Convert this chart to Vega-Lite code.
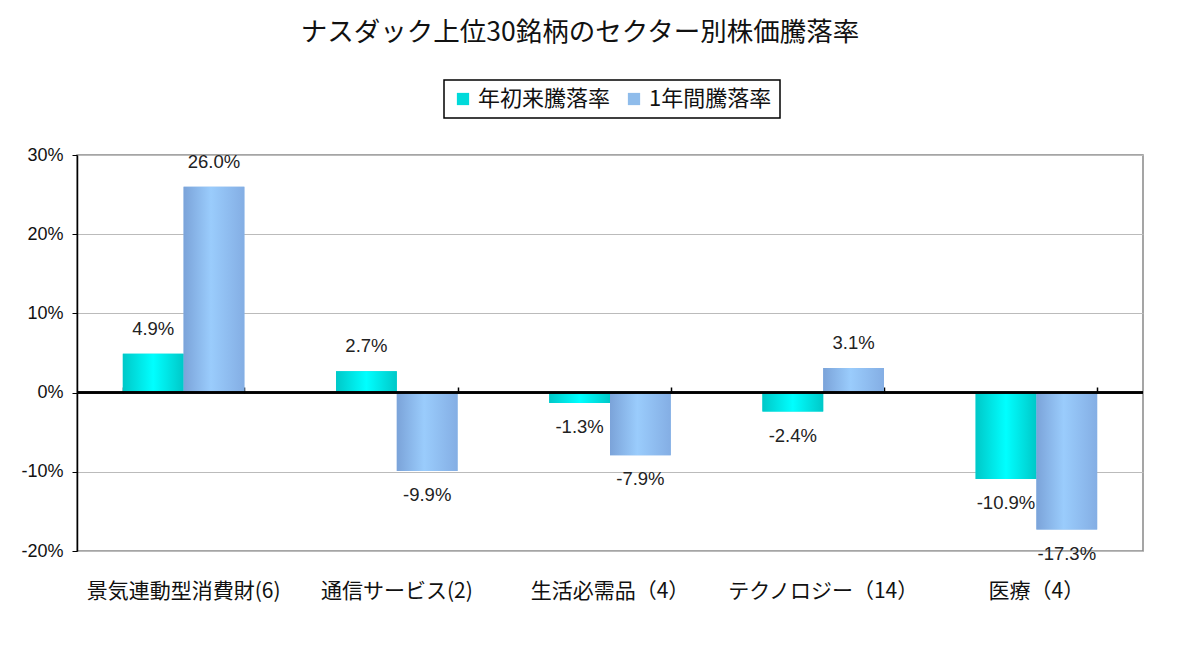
{
  "$schema": "https://vega.github.io/schema/vega-lite/v6.json",
  "width": 1066,
  "height": 396,
  "autosize": "none",
  "padding": {"left": 77, "top": 155, "right": 57, "bottom": 104},
  "background": "white",
  "title": {
    "text": "ナスダック上位30銘柄のセクター別株価騰落率",
    "font": "Noto Sans CJK JP",
    "fontSize": 26.5,
    "fontWeight": "normal",
    "color": "#111111",
    "anchor": "middle",
    "frame": "group",
    "baseline": "bottom",
    "offset": 6,
    "dx": -30
  },
  "config": {
    "view": {"stroke": "#888888", "strokeWidth": 1.5},
    "legend": {
      "orient": "none",
      "legendX": 367,
      "legendY": -75,
      "direction": "horizontal",
      "strokeColor": "black",
      "strokeWidth": 1.5,
      "fillColor": "white",
      "padding": 8,
      "labelFont": "Noto Sans CJK JP",
      "labelFontSize": 22,
      "labelColor": "#111111",
      "symbolType": "square",
      "symbolSize": 150,
      "symbolStrokeWidth": 0,
      "columnPadding": 12
    }
  },
  "data": {
    "values": [
      {"sector": "景気連動型消費財(6)", "series": "年初来騰落率", "value": 4.9},
      {"sector": "景気連動型消費財(6)", "series": "1年間騰落率", "value": 26.0},
      {"sector": "通信サービス(2)", "series": "年初来騰落率", "value": 2.7},
      {"sector": "通信サービス(2)", "series": "1年間騰落率", "value": -9.9},
      {"sector": "生活必需品（4）", "series": "年初来騰落率", "value": -1.3},
      {"sector": "生活必需品（4）", "series": "1年間騰落率", "value": -7.9},
      {"sector": "テクノロジー（14）", "series": "年初来騰落率", "value": -2.4},
      {"sector": "テクノロジー（14）", "series": "1年間騰落率", "value": 3.1},
      {"sector": "医療（4）", "series": "年初来騰落率", "value": -10.9},
      {"sector": "医療（4）", "series": "1年間騰落率", "value": -17.3}
    ]
  },
  "transform": [
    {"calculate": "replace(format(datum.value, '.1f'), '\u2212', '-') + '%'", "as": "label"}
  ],
  "encoding": {
    "x": {
      "field": "sector",
      "type": "nominal",
      "sort": null,
      "scale": {"paddingInner": 0.43, "paddingOuter": 0.215}
    },
    "xOffset": {
      "field": "series",
      "type": "nominal",
      "sort": ["年初来騰落率", "1年間騰落率"],
      "scale": {"domain": ["年初来騰落率", "1年間騰落率"]}
    },
    "y": {
      "field": "value",
      "type": "quantitative",
      "scale": {"domain": [-20, 30], "nice": false}
    }
  },
  "layer": [
    {
      "mark": {"type": "bar"},
      "encoding": {
        "x": {
          "field": "sector",
          "type": "nominal",
          "sort": null,
          "axis": {
            "title": null,
            "orient": "bottom",
            "domain": false,
            "ticks": false,
            "labelAngle": 0,
            "labelLimit": 0,
            "labelFont": "Noto Sans CJK JP",
            "labelFontSize": 21,
            "labelColor": "#111111",
            "labelPadding": 29
          }
        },
        "y": {
          "field": "value",
          "type": "quantitative",
          "axis": {
            "title": null,
            "values": [-20, -10, 0, 10, 20, 30],
            "labelExpr": "datum.value + '%'",
            "labelFont": "Liberation Sans",
            "labelFontSize": 18,
            "labelColor": "#111111",
            "labelPadding": 9,
            "domainColor": "black",
            "domainWidth": 1.5,
            "tickColor": "black",
            "tickSize": 5,
            "grid": true,
            "gridColor": "#bbbbbb"
          }
        },
        "color": {
          "field": "series",
          "type": "nominal",
          "title": null,
          "scale": {"domain": ["年初来騰落率", "1年間騰落率"], "range": ["#00DADA", "#8FBCEB"]}
        }
      }
    },
    {
      "transform": [{"filter": "datum.series === '年初来騰落率'"}],
      "mark": {
        "type": "bar",
        "fill": {
          "gradient": "linear", "x1": 0, "x2": 1, "y1": 0, "y2": 0,
          "stops": [
            {"offset": 0, "color": "#00C8C8"},
            {"offset": 0.5, "color": "#00FFFF"},
            {"offset": 1, "color": "#00C8C8"}
          ]
        }
      },
      "encoding": {
        "x": {
          "field": "sector",
          "type": "nominal",
          "sort": null,
          "axis": {
            "title": null,
            "orient": "bottom",
            "offset": -158,
            "domain": false,
            "labels": false,
            "grid": false,
            "ticks": true,
            "tickBand": "extent",
            "tickSize": -6,
            "tickColor": "black",
            "tickWidth": 1.5
          }
        }
      }
    },
    {
      "transform": [{"filter": "datum.series === '1年間騰落率'"}],
      "mark": {
        "type": "bar",
        "fill": {
          "gradient": "linear", "x1": 0, "x2": 1, "y1": 0, "y2": 0,
          "stops": [
            {"offset": 0, "color": "#7BA3D9"},
            {"offset": 0.45, "color": "#9ACCFC"},
            {"offset": 1, "color": "#84AEE4"}
          ]
        }
      },
      "encoding": {"x": {"field": "sector", "type": "nominal", "sort": null, "axis": null}}
    },
    {
      "transform": [{"filter": "datum.value >= 0"}],
      "mark": {"type": "text", "dy": -25, "baseline": "middle", "font": "Liberation Sans", "fontSize": 18.5, "color": "#222222"},
      "encoding": {
        "x": {"field": "sector", "type": "nominal", "sort": null, "axis": null},
        "text": {"field": "label"}
      }
    },
    {
      "transform": [{"filter": "datum.value < 0"}],
      "mark": {"type": "text", "dy": 24, "baseline": "middle", "font": "Liberation Sans", "fontSize": 18.5, "color": "#222222"},
      "encoding": {
        "x": {"field": "sector", "type": "nominal", "sort": null, "axis": null},
        "text": {"field": "label"}
      }
    },
    {
      "mark": {"type": "rule", "color": "black", "strokeWidth": 1.5},
      "encoding": {"x": null, "xOffset": null, "y": {"datum": 0}}
    }
  ],
  "resolve": {"axis": {"x": "independent"}}
}
